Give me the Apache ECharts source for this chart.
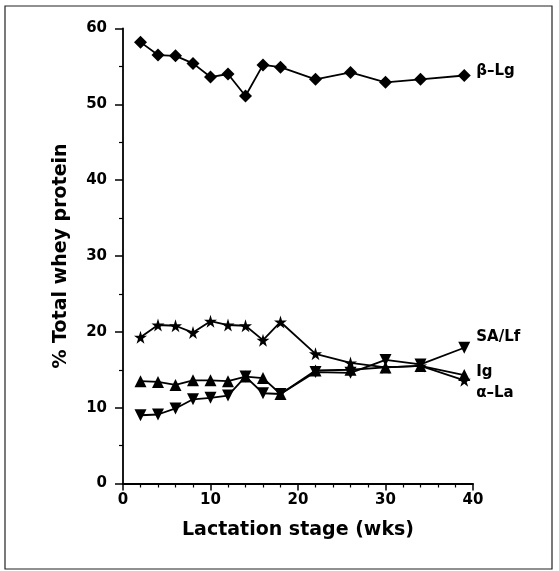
<!DOCTYPE html>
<html>
<head>
<meta charset="utf-8">
<script src="https://cdn.jsdelivr.net/npm/echarts@6/dist/echarts.min.js"></script>
<style>html,body{margin:0;padding:0;background:#fff;}#c{width:559px;height:571px;}</style>
</head>
<body>
<div id="c"></div>
<script>
const weeks = [2, 4, 6, 8, 10, 12, 14, 16, 18, 22, 26, 30, 34, 39];
const betaLg = [58.2, 56.5, 56.4, 55.4, 53.6, 54.0, 51.1, 55.2, 54.9, 53.3, 54.2, 52.9, 53.3, 53.8];
const alphaLa = [19.3, 20.9, 20.8, 19.9, 21.4, 20.9, 20.8, 18.9, 21.3, 17.1, 15.9, 15.3, 15.5, 13.6];
const ig = [13.5, 13.4, 13.0, 13.6, 13.6, 13.5, 14.1, 13.9, 11.8, 14.9, 15.0, 15.3, 15.5, 14.3];
const saLf = [9.0, 9.1, 9.9, 11.1, 11.3, 11.6, 14.1, 11.9, 11.8, 14.7, 14.6, 16.3, 15.7, 17.9];
const xTicks = [0, 10, 20, 30, 40];
const yTicks = [0, 10, 20, 30, 40, 50, 60];

const FONT = 'DejaVu Sans';
function pairs(vals){ return weeks.map((w,i)=>[w, vals[i]]); }
function mkSeries(name, vals, symbol, size, rotate, offset){
  return {
    name: name, type: 'line', data: pairs(vals),
    symbol: symbol, symbolSize: size, symbolRotate: rotate || 0,
    itemStyle: {color: '#000'}, lineStyle: {color: '#000', width: 1.8},
    showAllSymbol: true, animation: false,
    endLabel: {show: true, formatter: name, color: '#000', fontFamily: FONT, fontWeight: 'bold', fontSize: 15, distance: 12, offset: offset}
  };
}
const chart = echarts.init(document.getElementById('c'), null, {renderer: 'canvas'});
chart.setOption({
  backgroundColor: '#fff',
  animation: false,
  grid: {left: 123, right: 86, top: 28.5, bottom: 87.5},
  graphic: [{type: 'rect', shape: {x: 5, y: 6, width: 547, height: 563}, style: {fill: 'none', stroke: '#222', lineWidth: 1.2}, silent: true}],
  xAxis: {
    type: 'value', min: xTicks[0], max: xTicks[xTicks.length-1], interval: 10,
    name: 'Lactation stage (wks)', nameLocation: 'middle', nameGap: 37,
    nameTextStyle: {color: '#000', fontFamily: FONT, fontWeight: 'bold', fontSize: 19},
    axisLine: {show: true, lineStyle: {color: '#000', width: 1.8}},
    axisTick: {show: true, length: 7, lineStyle: {color: '#000', width: 1.5}},
    minorTick: {show: true, splitNumber: 5, length: 4, lineStyle: {color: '#000', width: 1.2}},
    axisLabel: {color: '#000', fontFamily: FONT, fontWeight: 'bold', fontSize: 15, margin: 9},
    splitLine: {show: false}
  },
  yAxis: {
    type: 'value', min: yTicks[0], max: yTicks[yTicks.length-1], interval: 10,
    name: '% Total whey protein', nameLocation: 'middle', nameGap: 52, nameRotate: 90,
    nameTextStyle: {color: '#000', fontFamily: FONT, fontWeight: 'bold', fontSize: 19},
    axisLine: {show: true, lineStyle: {color: '#000', width: 1.8}},
    axisTick: {show: true, length: 8, lineStyle: {color: '#000', width: 1.5}},
    minorTick: {show: true, splitNumber: 2, length: 4, lineStyle: {color: '#000', width: 1.2}},
    axisLabel: {color: '#000', fontFamily: FONT, fontWeight: 'bold', fontSize: 15, margin: 16},
    splitLine: {show: false}
  },
  series: [
    mkSeries('\u03B2\u2013Lg', betaLg, 'diamond', 13, 0, [0, -4]),
    mkSeries('\u03B1\u2013La', alphaLa, 'path://M50,0 L61,35 L98,35 L68,57 L79,91 L50,70 L21,91 L32,57 L2,35 L39,35 Z', 13, 0, [0, 13]),
    mkSeries('Ig', ig, 'triangle', 12, 0, [0, -3]),
    mkSeries('SA/Lf', saLf, 'triangle', 12, 180, [0, -11])
  ]
});
</script>
</body>
</html>
